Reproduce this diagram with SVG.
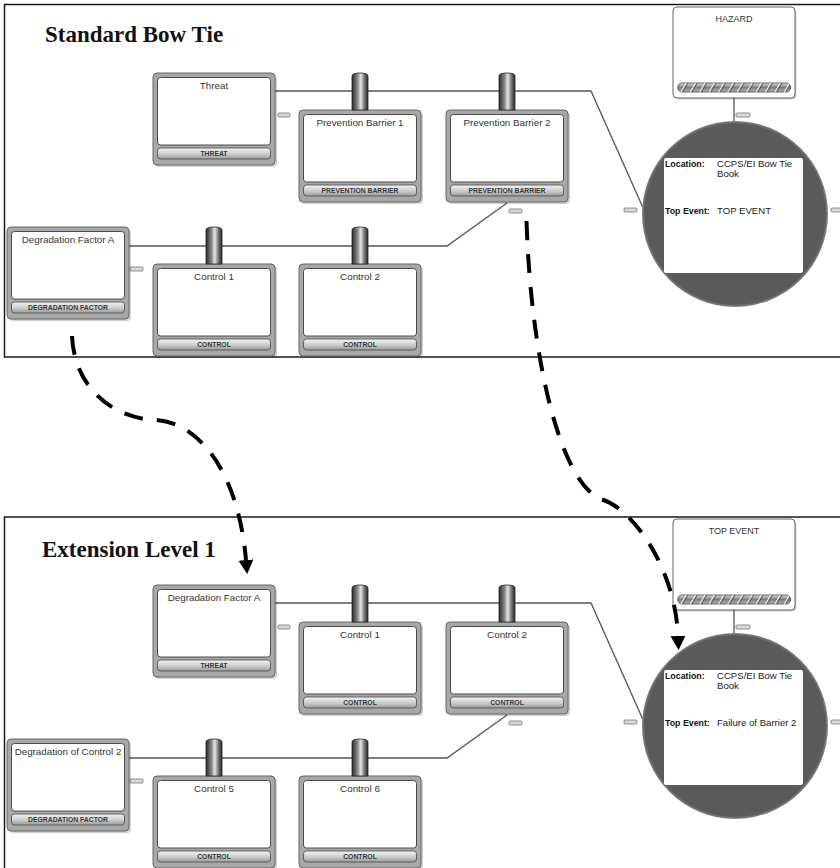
<svg xmlns="http://www.w3.org/2000/svg" width="840" height="868" viewBox="0 0 840 868">
<defs>
<style>
.frame{fill:none;stroke:#1a1a1a;stroke-width:1.5}
.ptitle{font-family:"Liberation Serif","Times New Roman",serif;font-weight:bold;font-size:23px;fill:#111}
.shadow{fill:#000;opacity:.18}
.outer{fill:#a8a8a8;stroke:#666;stroke-width:1}
.inner{fill:#fff;stroke:#4a4a4a;stroke-width:1}
.bar{fill:url(#barGrad);stroke:#4a4a4a;stroke-width:.8}
.ntitle{font-family:"Liberation Sans",Arial,sans-serif;font-size:9.8px;fill:#333;text-anchor:middle}
.ntype{font-family:"Liberation Sans",Arial,sans-serif;font-size:6.8px;font-weight:bold;fill:#3a3a3a;text-anchor:middle}
.cyl{fill:url(#cylGrad);stroke:#222;stroke-width:.8}
.link{fill:none;stroke:#555;stroke-width:1.3}
.tab{fill:#d9d9d9;stroke:#777;stroke-width:.8}
.dash{fill:none;stroke:#000;stroke-width:4;stroke-dasharray:19 14}
.haz{fill:#fff;stroke:#666;stroke-width:1}
.hbar{fill:url(#hbarGrad);stroke:#444;stroke-width:.8}
.htext{font-family:"Liberation Sans",Arial,sans-serif;font-size:9px;fill:#333;text-anchor:middle}
.lbl{font-family:"Liberation Sans",Arial,sans-serif;font-size:8.8px;font-weight:bold;fill:#111}
.val{font-family:"Liberation Sans",Arial,sans-serif;font-size:9.6px;fill:#222}
</style>
<linearGradient id="barGrad" x1="0" y1="0" x2="0" y2="1">
<stop offset="0" stop-color="#f2f2f2"/>
<stop offset="0.5" stop-color="#d0d0d0"/>
<stop offset="1" stop-color="#9a9a9a"/>
</linearGradient>
<linearGradient id="cylGrad" x1="0" y1="0" x2="1" y2="0">
<stop offset="0" stop-color="#2a2a2a"/>
<stop offset="0.35" stop-color="#8a8a8a"/>
<stop offset="0.55" stop-color="#e6e6e6"/>
<stop offset="0.8" stop-color="#6a6a6a"/>
<stop offset="1" stop-color="#2a2a2a"/>
</linearGradient>
<linearGradient id="hbarGrad" x1="0" y1="0" x2="0" y2="1">
<stop offset="0" stop-color="#dcdcdc"/>
<stop offset="0.5" stop-color="#7e7e7e"/>
<stop offset="1" stop-color="#b4b4b4"/>
</linearGradient>
<pattern id="hatch" patternUnits="userSpaceOnUse" x="0" y="0" width="9.4" height="20" patternTransform="skewX(-30)">
<rect x="0" y="0" width="1.6" height="20" fill="#fff"/>
<rect x="1.6" y="0" width="1" height="20" fill="#333"/>
</pattern>
<radialGradient id="circGrad" cx="0.5" cy="0.5" r="0.5">
<stop offset="0" stop-color="#5a5a5a"/>
<stop offset="0.97" stop-color="#5a5a5a"/>
<stop offset="1" stop-color="#888"/>
</radialGradient>
<marker id="ah" markerUnits="userSpaceOnUse" markerWidth="16" markerHeight="16" refX="0" refY="7.5" orient="auto">
<path d="M0,0 L14,7.5 L0,15 Z" fill="#000"/>
</marker>
</defs>

<!-- ===== Panel 1: Standard Bow Tie ===== -->
<g id="panel-standard">
<rect class="frame" x="4.5" y="4.5" width="850" height="352.5"/>
<text class="ptitle" x="45" y="42">Standard Bow Tie</text>

<g id="connectors-standard">
<polyline class="link" points="275,91 591,91 644,210"/>
<polyline class="link" points="128,246 447,246 507,203"/>
<line class="link" x1="734" y1="98" x2="734" y2="124"/>
<rect class="tab" x="278" y="113" width="12" height="4" rx="1"/>
<rect class="tab" x="130" y="267" width="13" height="4" rx="1"/>
<rect class="tab" x="509" y="209" width="13" height="4" rx="1"/>
<rect class="tab" x="624" y="208" width="13" height="4" rx="1"/>
<rect class="tab" x="736" y="113" width="14" height="4" rx="1"/>
<rect class="tab" x="831" y="208" width="13" height="4" rx="1"/>
</g>

<g id="threat" transform="translate(153,73)">
<rect class="shadow" x="2" y="2" width="122" height="92" rx="4"/>
<rect class="outer" x="0" y="0" width="122" height="92" rx="4"/>
<rect class="inner" x="4.5" y="4.5" width="113" height="67.5" rx="3"/>
<rect class="bar" x="4.5" y="75" width="113" height="11" rx="3"/>
<text class="ntitle" x="61" y="15.5">Threat</text>
<text class="ntype" x="61" y="83.3">THREAT</text>
</g>

<g id="prevention-barrier-1" transform="translate(299,110)">
<rect class="shadow" x="2" y="2" width="122" height="92" rx="4"/>
<rect class="outer" x="0" y="0" width="122" height="92" rx="4"/>
<rect class="inner" x="4.5" y="4.5" width="113" height="67.5" rx="3"/>
<rect class="bar" x="4.5" y="75" width="113" height="11" rx="3"/>
<path class="cyl" d="M53,0 V-34 Q53,-37 61,-37 Q69,-37 69,-34 V0 Z"/>
<text class="ntitle" x="61" y="15.5">Prevention Barrier 1</text>
<text class="ntype" x="61" y="83.3">PREVENTION BARRIER</text>
</g>

<g id="prevention-barrier-2" transform="translate(446,110)">
<rect class="shadow" x="2" y="2" width="122" height="92" rx="4"/>
<rect class="outer" x="0" y="0" width="122" height="92" rx="4"/>
<rect class="inner" x="4.5" y="4.5" width="113" height="67.5" rx="3"/>
<rect class="bar" x="4.5" y="75" width="113" height="11" rx="3"/>
<path class="cyl" d="M53,0 V-34 Q53,-37 61,-37 Q69,-37 69,-34 V0 Z"/>
<text class="ntitle" x="61" y="15.5">Prevention Barrier 2</text>
<text class="ntype" x="61" y="83.3">PREVENTION BARRIER</text>
</g>

<g id="degradation-factor-a" transform="translate(7,227)">
<rect class="shadow" x="2" y="2" width="122" height="92" rx="4"/>
<rect class="outer" x="0" y="0" width="122" height="92" rx="4"/>
<rect class="inner" x="4.5" y="4.5" width="113" height="67.5" rx="3"/>
<rect class="bar" x="4.5" y="75" width="113" height="11" rx="3"/>
<text class="ntitle" x="61" y="15.8">Degradation Factor A</text>
<text class="ntype" x="61" y="83.3">DEGRADATION FACTOR</text>
</g>

<g id="control-1" transform="translate(153,264)">
<rect class="shadow" x="2" y="2" width="122" height="92" rx="4"/>
<rect class="outer" x="0" y="0" width="122" height="92" rx="4"/>
<rect class="inner" x="4.5" y="4.5" width="113" height="67.5" rx="3"/>
<rect class="bar" x="4.5" y="75" width="113" height="11" rx="3"/>
<path class="cyl" d="M53,0 V-34 Q53,-37 61,-37 Q69,-37 69,-34 V0 Z"/>
<text class="ntitle" x="61" y="15.8">Control 1</text>
<text class="ntype" x="61" y="83.3">CONTROL</text>
</g>

<g id="control-2" transform="translate(299,264)">
<rect class="shadow" x="2" y="2" width="122" height="92" rx="4"/>
<rect class="outer" x="0" y="0" width="122" height="92" rx="4"/>
<rect class="inner" x="4.5" y="4.5" width="113" height="67.5" rx="3"/>
<rect class="bar" x="4.5" y="75" width="113" height="11" rx="3"/>
<path class="cyl" d="M53,0 V-34 Q53,-37 61,-37 Q69,-37 69,-34 V0 Z"/>
<text class="ntitle" x="61" y="15.8">Control 2</text>
<text class="ntype" x="61" y="83.3">CONTROL</text>
</g>

<g id="hazard" transform="translate(673,7)">
<rect class="shadow" x="1.5" y="1.5" width="122" height="91" rx="4"/>
<rect class="haz" x="0" y="0" width="122" height="91" rx="4"/>
<rect class="hbar" x="4.7" y="76" width="113" height="9" rx="4.5"/>
<rect x="4.7" y="76" width="113" height="9" rx="4.5" fill="url(#hatch)" opacity=".9"/>
<text class="htext" x="61" y="15">HAZARD</text>
</g>

<g id="top-event" transform="translate(735,214)">
<circle cx="0" cy="0" r="93" fill="url(#circGrad)"/>
<rect x="-71" y="-56" width="139" height="115" rx="2" fill="#fff"/>
<text class="lbl" x="-70" y="-47">Location:</text>
<text class="val" x="-18" y="-47">CCPS/EI Bow Tie</text>
<text class="val" x="-18" y="-37">Book</text>
<text class="lbl" x="-70" y="-0.5">Top Event:</text>
<text class="val" x="-18" y="-0.5">TOP EVENT</text>
</g>
</g>

<!-- ===== Panel 2: Extension Level 1 ===== -->
<g id="panel-extension" transform="translate(0,512)">
<rect class="frame" x="4.5" y="5" width="850" height="400"/>
<text class="ptitle" x="42" y="45">Extension Level 1</text>

<g id="connectors-extension">
<polyline class="link" points="275,91 591,91 644,210"/>
<polyline class="link" points="128,246 447,246 507,203"/>
<line class="link" x1="734" y1="98" x2="734" y2="124"/>
<rect class="tab" x="278" y="113" width="12" height="4" rx="1"/>
<rect class="tab" x="130" y="267" width="13" height="4" rx="1"/>
<rect class="tab" x="509" y="209" width="13" height="4" rx="1"/>
<rect class="tab" x="624" y="208" width="13" height="4" rx="1"/>
<rect class="tab" x="736" y="113" width="14" height="4" rx="1"/>
<rect class="tab" x="831" y="208" width="13" height="4" rx="1"/>
</g>

<g id="ext-degradation-factor-a" transform="translate(153,73)">
<rect class="shadow" x="2" y="2" width="122" height="92" rx="4"/>
<rect class="outer" x="0" y="0" width="122" height="92" rx="4"/>
<rect class="inner" x="4.5" y="4.5" width="113" height="67.5" rx="3"/>
<rect class="bar" x="4.5" y="75" width="113" height="11" rx="3"/>
<text class="ntitle" x="61" y="15.5">Degradation Factor A</text>
<text class="ntype" x="61" y="83.3">THREAT</text>
</g>

<g id="ext-control-1" transform="translate(299,110)">
<rect class="shadow" x="2" y="2" width="122" height="92" rx="4"/>
<rect class="outer" x="0" y="0" width="122" height="92" rx="4"/>
<rect class="inner" x="4.5" y="4.5" width="113" height="67.5" rx="3"/>
<rect class="bar" x="4.5" y="75" width="113" height="11" rx="3"/>
<path class="cyl" d="M53,0 V-34 Q53,-37 61,-37 Q69,-37 69,-34 V0 Z"/>
<text class="ntitle" x="61" y="15.5">Control 1</text>
<text class="ntype" x="61" y="83.3">CONTROL</text>
</g>

<g id="ext-control-2" transform="translate(446,110)">
<rect class="shadow" x="2" y="2" width="122" height="92" rx="4"/>
<rect class="outer" x="0" y="0" width="122" height="92" rx="4"/>
<rect class="inner" x="4.5" y="4.5" width="113" height="67.5" rx="3"/>
<rect class="bar" x="4.5" y="75" width="113" height="11" rx="3"/>
<path class="cyl" d="M53,0 V-34 Q53,-37 61,-37 Q69,-37 69,-34 V0 Z"/>
<text class="ntitle" x="61" y="15.5">Control 2</text>
<text class="ntype" x="61" y="83.3">CONTROL</text>
</g>

<g id="ext-degradation-of-control-2" transform="translate(7,227)">
<rect class="shadow" x="2" y="2" width="122" height="92" rx="4"/>
<rect class="outer" x="0" y="0" width="122" height="92" rx="4"/>
<rect class="inner" x="4.5" y="4.5" width="113" height="67.5" rx="3"/>
<rect class="bar" x="4.5" y="75" width="113" height="11" rx="3"/>
<text class="ntitle" x="61" y="15.8">Degradation of Control 2</text>
<text class="ntype" x="61" y="83.3">DEGRADATION FACTOR</text>
</g>

<g id="ext-control-5" transform="translate(153,264)">
<rect class="shadow" x="2" y="2" width="122" height="92" rx="4"/>
<rect class="outer" x="0" y="0" width="122" height="92" rx="4"/>
<rect class="inner" x="4.5" y="4.5" width="113" height="67.5" rx="3"/>
<rect class="bar" x="4.5" y="75" width="113" height="11" rx="3"/>
<path class="cyl" d="M53,0 V-34 Q53,-37 61,-37 Q69,-37 69,-34 V0 Z"/>
<text class="ntitle" x="61" y="15.8">Control 5</text>
<text class="ntype" x="61" y="83.3">CONTROL</text>
</g>

<g id="ext-control-6" transform="translate(299,264)">
<rect class="shadow" x="2" y="2" width="122" height="92" rx="4"/>
<rect class="outer" x="0" y="0" width="122" height="92" rx="4"/>
<rect class="inner" x="4.5" y="4.5" width="113" height="67.5" rx="3"/>
<rect class="bar" x="4.5" y="75" width="113" height="11" rx="3"/>
<path class="cyl" d="M53,0 V-34 Q53,-37 61,-37 Q69,-37 69,-34 V0 Z"/>
<text class="ntitle" x="61" y="15.8">Control 6</text>
<text class="ntype" x="61" y="83.3">CONTROL</text>
</g>

<g id="ext-hazard-top-event" transform="translate(673,7)">
<rect class="shadow" x="1.5" y="1.5" width="122" height="91" rx="4"/>
<rect class="haz" x="0" y="0" width="122" height="91" rx="4"/>
<rect class="hbar" x="4.7" y="76" width="113" height="9" rx="4.5"/>
<rect x="4.7" y="76" width="113" height="9" rx="4.5" fill="url(#hatch)" opacity=".9"/>
<text class="htext" x="61" y="15">TOP EVENT</text>
</g>

<g id="ext-top-event" transform="translate(735,214)">
<circle cx="0" cy="0" r="93" fill="url(#circGrad)"/>
<rect x="-71" y="-56" width="139" height="115" rx="2" fill="#fff"/>
<text class="lbl" x="-70" y="-47">Location:</text>
<text class="val" x="-18" y="-47">CCPS/EI Bow Tie</text>
<text class="val" x="-18" y="-37">Book</text>
<text class="lbl" x="-70" y="-0.5">Top Event:</text>
<text class="val" x="-18" y="-0.5">Failure of Barrier 2</text>
</g>
</g>

<!-- ===== Extension (dashed) connectors ===== -->
<g id="extension-connectors">
<path class="dash" d="M72,336 C74,385 110,418 155,420 C198,422 238,470 246,560" marker-end="url(#ah)"/>
<path class="dash" d="M526.5,221 C531,360 560,480 600,499 C630,506 675,565 678,636" marker-end="url(#ah)"/>
</g>
</svg>
